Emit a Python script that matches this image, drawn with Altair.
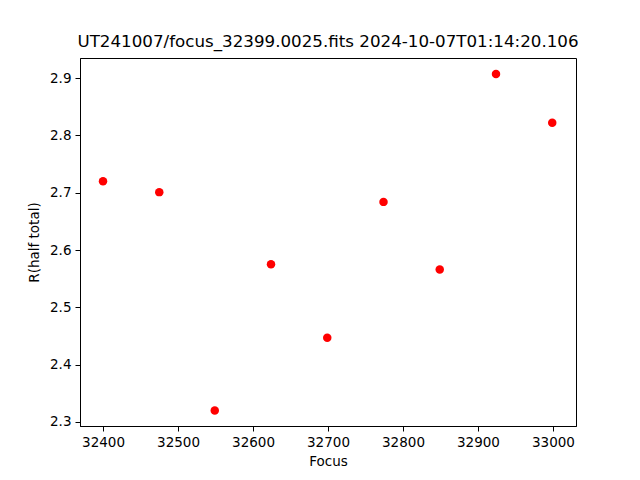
import altair as alt
import pandas as pd

focus = [32400, 32475, 32549, 32624, 32699, 32774, 32849, 32924, 32999]
r_half = [2.720, 2.701, 2.320, 2.575, 2.447, 2.684, 2.566, 2.907, 2.822]
x_ticks = [32400, 32500, 32600, 32700, 32800, 32900, 33000]
y_ticks = [2.3, 2.4, 2.5, 2.6, 2.7, 2.8, 2.9]
title_text = "UT241007/focus_32399.0025.fits 2024-10-07T01:14:20.106"

df = pd.DataFrame({"Focus": focus, "R": r_half})

FONT = "DejaVu Sans"

chart = alt.Chart(df).mark_circle(size=72, color="#ff0000", opacity=1).encode(
    x=alt.X("Focus:Q",
            scale=alt.Scale(domain=[32369.3, 33030.7], nice=False, zero=False),
            axis=alt.Axis(values=x_ticks, format="d", title="Focus")),
    y=alt.Y("R:Q",
            scale=alt.Scale(domain=[2.293, 2.935], nice=False, zero=False),
            axis=alt.Axis(values=y_ticks, format=".1f", title="R(half total)")),
).properties(
    width=496, height=368,
    title=alt.TitleParams(title_text, font=FONT, fontSize=16.7, fontWeight="normal",
                          anchor="middle", offset=7, color="black"),
    autosize=alt.AutoSizeParams(type="none"),
    padding={"left": 72, "top": 50, "right": 56, "bottom": 46},
).configure_view(
    stroke="black", strokeWidth=1
).configure_axis(
    grid=False, domainColor="black", tickColor="black", tickSize=5,
    labelFont=FONT, labelFontSize=13.5, labelColor="black", labelPadding=4,
    titleFont=FONT, titleFontSize=13.5, titleFontWeight="normal", titleColor="black",
).configure_axisX(titlePadding=6).configure_axisY(titlePadding=8)

chart.save("out.html", embed_options={"renderer": "svg", "actions": False})
